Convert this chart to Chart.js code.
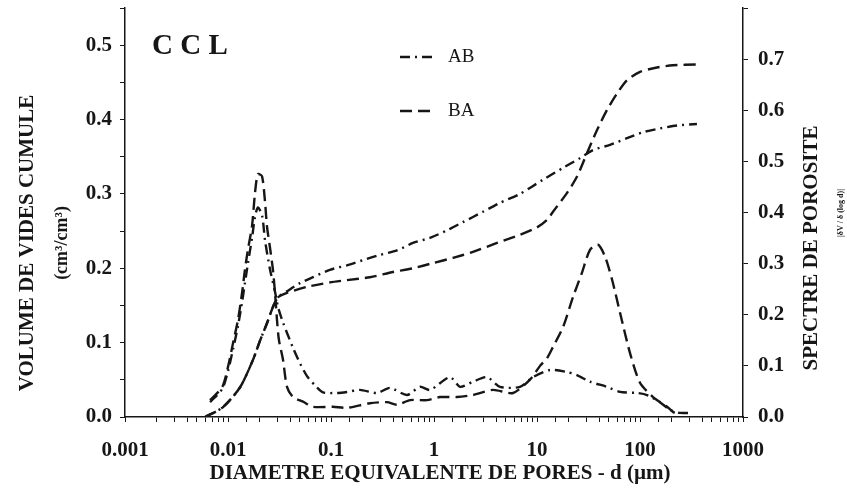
<!DOCTYPE html>
<html>
<head>
<meta charset="utf-8">
<script src="https://cdn.jsdelivr.net/npm/chart.js@4.4.0/dist/chart.umd.min.js"></script>
<style>
  html, body { margin: 0; padding: 0; background: #fff; }
</style>
</head>
<body>
<canvas id="porosite" width="847" height="492"></canvas>
<script>
// diametres (µm) et valeurs
var abCumD = [0.006, 0.0089, 0.0131, 0.0175, 0.0205, 0.0239, 0.0273, 0.0306, 0.0374, 0.050, 0.0668, 0.0977, 0.143, 0.205, 0.299, 0.437, 0.625, 0.915, 1.34, 1.91, 2.99, 4.37, 6.84, 11.4, 17.9, 26.1, 35.0, 51.2, 74.8, 107, 156, 228, 357];
var abCumV = [0, 0.013, 0.040, 0.077, 0.103, 0.126, 0.148, 0.161, 0.169, 0.180, 0.188, 0.198, 0.204, 0.211, 0.218, 0.224, 0.234, 0.241, 0.251, 0.262, 0.276, 0.288, 0.300, 0.319, 0.335, 0.348, 0.359, 0.366, 0.375, 0.383, 0.388, 0.392, 0.394];

var baCumD = [0.006, 0.0089, 0.0131, 0.0175, 0.0205, 0.0239, 0.0273, 0.0306, 0.0374, 0.0585, 0.0977, 0.143, 0.239, 0.400, 0.625, 0.978, 1.53, 2.39, 4.09, 6.84, 10, 12.5, 14.3, 19.5, 24.4, 30.6, 38.3, 47.9, 59.8, 74.8, 100, 146, 209, 357];
var baCumV = [0, 0.013, 0.040, 0.077, 0.103, 0.126, 0.148, 0.161, 0.167, 0.175, 0.181, 0.184, 0.188, 0.195, 0.200, 0.207, 0.214, 0.222, 0.234, 0.245, 0.255, 0.265, 0.276, 0.301, 0.323, 0.355, 0.386, 0.413, 0.435, 0.453, 0.464, 0.470, 0.473, 0.474];

var abSpecD = [0.0067, 0.0088, 0.010, 0.0112, 0.0125, 0.0137, 0.0146, 0.0156, 0.0171, 0.0183, 0.0195, 0.0214, 0.0229, 0.0255, 0.0286, 0.0306, 0.0342, 0.0428, 0.050, 0.0585, 0.073, 0.0836, 0.114, 0.143, 0.191, 0.280, 0.374, 0.547, 0.731, 0.915, 1.43, 1.79, 2.39, 3.27, 4.37, 6.84, 9.14, 13.4, 19.5, 24.4, 32.7, 47.9, 64.0, 93.5, 117, 156, 195, 244, 305];
var abSpecV = [0.029, 0.055, 0.090, 0.133, 0.178, 0.225, 0.262, 0.300, 0.350, 0.392, 0.410, 0.395, 0.345, 0.290, 0.245, 0.215, 0.185, 0.135, 0.105, 0.080, 0.058, 0.048, 0.047, 0.049, 0.053, 0.047, 0.057, 0.043, 0.059, 0.053, 0.078, 0.059, 0.069, 0.078, 0.059, 0.059, 0.078, 0.092, 0.088, 0.082, 0.069, 0.059, 0.049, 0.047, 0.043, 0.029, 0.014, 0.008, 0.008];

var baSpecD = [0.0067, 0.0088, 0.010, 0.0112, 0.0125, 0.0137, 0.0146, 0.0156, 0.0171, 0.0183, 0.0195, 0.0214, 0.0229, 0.0239, 0.0255, 0.0273, 0.0286, 0.0299, 0.0312, 0.0342, 0.0374, 0.0428, 0.0535, 0.0668, 0.1045, 0.143, 0.239, 0.35, 0.437, 0.585, 0.855, 1.14, 1.67, 2.39, 3.74, 5.85, 8.55, 10.7, 12.5, 14.3, 17.9, 22.4, 27.3, 32.7, 39.1, 45.7, 53.5, 64.0, 80, 100, 134, 183, 209, 244];
var baSpecV = [0.033, 0.059, 0.098, 0.145, 0.190, 0.243, 0.288, 0.327, 0.373, 0.439, 0.475, 0.471, 0.420, 0.373, 0.333, 0.288, 0.243, 0.190, 0.151, 0.112, 0.059, 0.039, 0.030, 0.020, 0.020, 0.018, 0.027, 0.029, 0.024, 0.033, 0.033, 0.039, 0.039, 0.043, 0.053, 0.047, 0.073, 0.100, 0.115, 0.137, 0.176, 0.235, 0.282, 0.327, 0.337, 0.314, 0.269, 0.204, 0.125, 0.067, 0.039, 0.020, 0.010, 0.004];

var xTickLabels = ['0.001', '0.01', '0.1', '1', '10', '100', '1000'];
var seriesNames = ['AB', 'BA'];
var leftTitle = ['VOLUME DE VIDES CUMULE', '(cm\u00B3/cm\u00B3)'];
var rightTitle = ['SPECTRE DE POROSITE', '|\u03B4V / \u03B4 (log d)|'];
var xTitle = 'DIAMETRE EQUIVALENTE DE PORES - d (\u00B5m)';
var panelName = 'C C L';

var serif = '"Liberation Serif", "Times New Roman", serif';
var ink = '#161616';
var dashAB = [10, 5, 2, 5];
var dashBA = [12, 6];

function pts(xs, ys) {
  return xs.map(function (d, i) { return { x: d, y: ys[i] }; });
}

function decadeLabel(v) {
  var l = Math.log10(v);
  if (Math.abs(l - Math.round(l)) < 1e-6) {
    var idx = Math.round(l) + 3;
    return xTickLabels[idx] !== undefined ? xTickLabels[idx] : '';
  }
  return '';
}

function tenthLabel(v) {
  var c = Math.round(v * 100);
  return c % 10 === 0 ? v.toFixed(1) : '';
}

// titres, legende et nom du panneau
var decor = {
  id: 'decor',
  afterDraw: function (chart) {
    var ctx = chart.ctx;
    ctx.save();
    ctx.fillStyle = ink;
    ctx.textAlign = 'center';
    ctx.textBaseline = 'middle';

    ctx.save();
    ctx.translate(28, 243);
    ctx.rotate(-Math.PI / 2);
    ctx.font = 'bold 21px ' + serif;
    ctx.fillText(leftTitle[0], 0, 0);
    ctx.font = 'bold 18px ' + serif;
    ctx.fillText(leftTitle[1], 0, 34);
    ctx.restore();

    ctx.save();
    ctx.translate(812, 248);
    ctx.rotate(-Math.PI / 2);
    ctx.font = 'bold 21px ' + serif;
    ctx.fillText(rightTitle[0], 0, 0);
    ctx.font = 'bold 8px ' + serif;
    ctx.fillText(rightTitle[1], 35, 29);
    ctx.restore();

    ctx.font = 'bold 21px ' + serif;
    ctx.fillText(xTitle, 440, 474);

    ctx.textAlign = 'left';
    ctx.font = 'bold 29px ' + serif;
    ctx.fillText(panelName, 152, 47);

    var rows = [[57, dashAB], [111, dashBA]];
    ctx.font = '19px ' + serif;
    rows.forEach(function (r, i) {
      ctx.beginPath();
      ctx.setLineDash(r[1]);
      ctx.lineWidth = 2.4;
      ctx.strokeStyle = ink;
      ctx.moveTo(400, r[0]);
      ctx.lineTo(435, r[0]);
      ctx.stroke();
      ctx.fillText(seriesNames[i], 448, r[0]);
    });
    ctx.restore();
  }
};

function line(data, dash, axis) {
  return {
    data: data,
    yAxisID: axis,
    borderColor: ink,
    borderWidth: 2.4,
    borderDash: dash,
    pointRadius: 0,
    fill: false,
    tension: 0.25
  };
}

var tickFont = { family: serif, size: 21, weight: 'bold' };

function fitY(w) {
  return function (s) { s.width = w; s.paddingTop = 0; s.paddingBottom = 0; };
}

new Chart(document.getElementById('porosite'), {
  type: 'line',
  data: {
    datasets: [
      line(pts(abCumD, abCumV), dashAB, 'yL'),
      line(pts(baCumD, baCumV), dashBA, 'yL'),
      line(pts(abSpecD, abSpecV), dashAB, 'yR'),
      line(pts(baSpecD, baSpecV), dashBA, 'yR')
    ]
  },
  options: {
    responsive: false,
    animation: false,
    layout: { padding: { top: 8 } },
    plugins: { legend: { display: false }, tooltip: { enabled: false } },
    scales: {
      x: {
        type: 'logarithmic',
        min: 0.001,
        max: 1000,
        afterFit: function (s) { s.height = 75; s.paddingLeft = 0; s.paddingRight = 0; },
        border: { display: true, color: ink, width: 1.5 },
        grid: { drawOnChartArea: false, drawTicks: true, tickLength: 5, color: ink },
        ticks: { autoSkip: false, maxRotation: 0, padding: 16, color: ink, font: tickFont, callback: decadeLabel }
      },
      yL: {
        position: 'left',
        min: 0,
        max: 0.55,
        afterFit: fitY(125),
        border: { display: true, color: ink, width: 1.5 },
        grid: { drawOnChartArea: false, tickLength: 5, color: ink },
        ticks: { stepSize: 0.05, padding: 8, color: ink, font: tickFont, callback: tenthLabel }
      },
      yR: {
        position: 'right',
        min: 0,
        max: 0.8,
        afterFit: fitY(104),
        border: { display: true, color: ink, width: 1.5 },
        grid: { drawOnChartArea: false, tickLength: 5, color: ink },
        ticks: {
          stepSize: 0.05, padding: 10, color: ink, font: tickFont,
          callback: function (v) { return v > 0.75 ? '' : tenthLabel(v); }
        }
      }
    }
  },
  plugins: [decor]
});
</script>
</body>
</html>
